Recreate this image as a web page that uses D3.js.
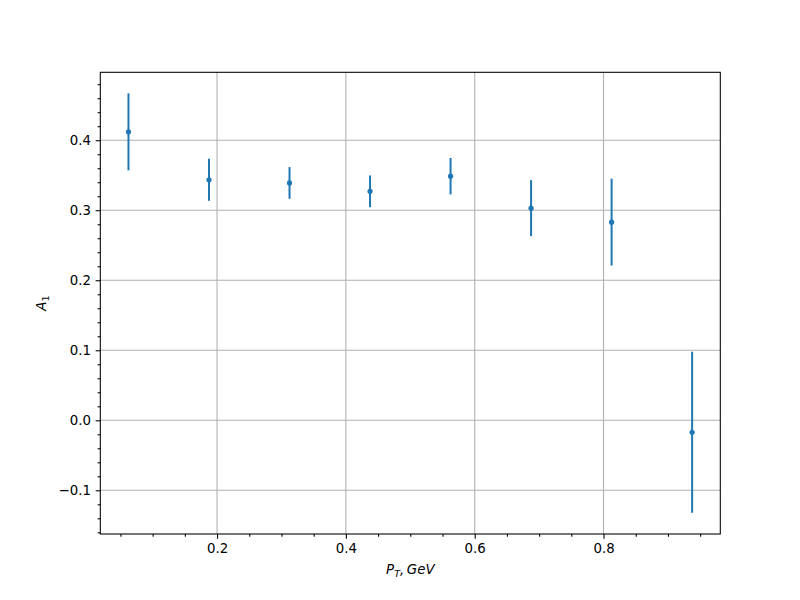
<!DOCTYPE html>
<html><head><meta charset="utf-8">
<script src="https://cdn.jsdelivr.net/npm/d3@7"></script>
<style>body{margin:0;background:#fff}svg{display:block;font-family:"DejaVu Sans",sans-serif}</style>
</head><body><svg id="c" width="800" height="600"></svg>
<script>
const ptValues = [0.0625, 0.1875, 0.3125, 0.4375, 0.5625, 0.6875, 0.8125, 0.9375];
const a1Values = [0.412, 0.3435, 0.339, 0.327, 0.3486, 0.303, 0.283, -0.0171];
const a1Errors = [0.055, 0.030, 0.0226, 0.0227, 0.026, 0.040, 0.062, 0.115];
const xTicks = [0.2, 0.4, 0.6, 0.8];
const yTicks = [-0.1, 0.0, 0.1, 0.2, 0.3, 0.4];

const L = 100.3, R = 720.3, T = 72.3, B = 534;
const svg = d3.select("#c");
const x = d3.scaleLinear().domain([0.01875, 0.98125]).range([L, R]);
const y = d3.scaleLinear().domain([-0.1624, 0.497]).range([B, T]);
const blue = "#1f77b4";
const fmt = v => (v < 0 ? "\u2212" : "") + Math.abs(v).toFixed(1);

// grid
const g = svg.append("g");
g.selectAll(".gx").data(xTicks).join("line")
  .attr("x1", d => x(d)).attr("x2", d => x(d)).attr("y1", T).attr("y2", B)
  .attr("stroke", "#b0b0b0").attr("stroke-width", 1.07);
g.selectAll(".gy").data(yTicks).join("line")
  .attr("y1", d => y(d)).attr("y2", d => y(d)).attr("x1", L).attr("x2", R)
  .attr("stroke", "#b0b0b0").attr("stroke-width", 1.07);

// axes
const xAxis = d3.axisBottom(x).tickValues(xTicks).tickFormat(fmt).tickSize(4.67).tickPadding(4.67);
const xMinor = d3.axisBottom(x).tickValues(d3.range(0.05, 0.96, 0.05).filter(v => !xTicks.some(t => Math.abs(t - v) < 1e-6))).tickFormat("").tickSize(2.67);
const yAxis = d3.axisLeft(y).tickValues(yTicks).tickFormat(fmt).tickSize(4.67).tickPadding(4.67);
const yMinor = d3.axisLeft(y).tickValues(d3.range(-0.16, 0.49, 0.02).filter(v => !yTicks.some(t => Math.abs(t - v) < 1e-6))).tickFormat("").tickSize(2.67);

function style(sel) {
  sel.select(".domain").remove();
  sel.selectAll("line").attr("stroke", "#000").attr("stroke-width", 1.07);
  sel.selectAll("text").attr("fill", "#000").attr("font-size", "13.33px").attr("font-family", "DejaVu Sans");
}
svg.append("g").attr("transform", `translate(0,${B})`).call(xAxis).call(style);
svg.append("g").attr("transform", `translate(0,${B})`).call(xMinor).call(style);
svg.append("g").attr("transform", `translate(${L},0)`).call(yAxis).call(style);
svg.append("g").attr("transform", `translate(${L},0)`).call(yMinor).call(style);

// data
const pts = ptValues.map((v, i) => ({x: v, y: a1Values[i], e: a1Errors[i]}));
svg.append("g").selectAll("line").data(pts).join("line")
  .attr("x1", d => x(d.x)).attr("x2", d => x(d.x))
  .attr("y1", d => y(d.y - d.e)).attr("y2", d => y(d.y + d.e))
  .attr("stroke", blue).attr("stroke-width", 2);
svg.append("g").selectAll("circle").data(pts).join("circle")
  .attr("cx", d => x(d.x)).attr("cy", d => y(d.y)).attr("r", 2.6).attr("fill", blue);

// frame
svg.append("rect").attr("x", L).attr("y", T).attr("width", R - L).attr("height", B - T)
  .attr("fill", "none").attr("stroke", "#000").attr("stroke-width", 1.07);

// labels
const xl = svg.append("text").attr("x", (L + R) / 2).attr("y", 574).attr("text-anchor", "middle")
  .attr("font-size", "13.33px").attr("font-style", "italic").attr("font-family", "DejaVu Sans");
xl.append("tspan").text("P");
xl.append("tspan").text("T").attr("font-size", "9.5px").attr("dy", 2.5);
xl.append("tspan").text(",\u2009GeV").attr("dy", -2.5);

const yl = svg.append("text").attr("transform", `translate(46,${(T + B) / 2}) rotate(-90)`).attr("text-anchor", "middle")
  .attr("font-size", "13.33px").attr("font-family", "DejaVu Sans");
yl.append("tspan").text("A").attr("font-style", "italic");
yl.append("tspan").text("1").attr("font-size", "9.5px").attr("dy", 2.5);
</script></body></html>
